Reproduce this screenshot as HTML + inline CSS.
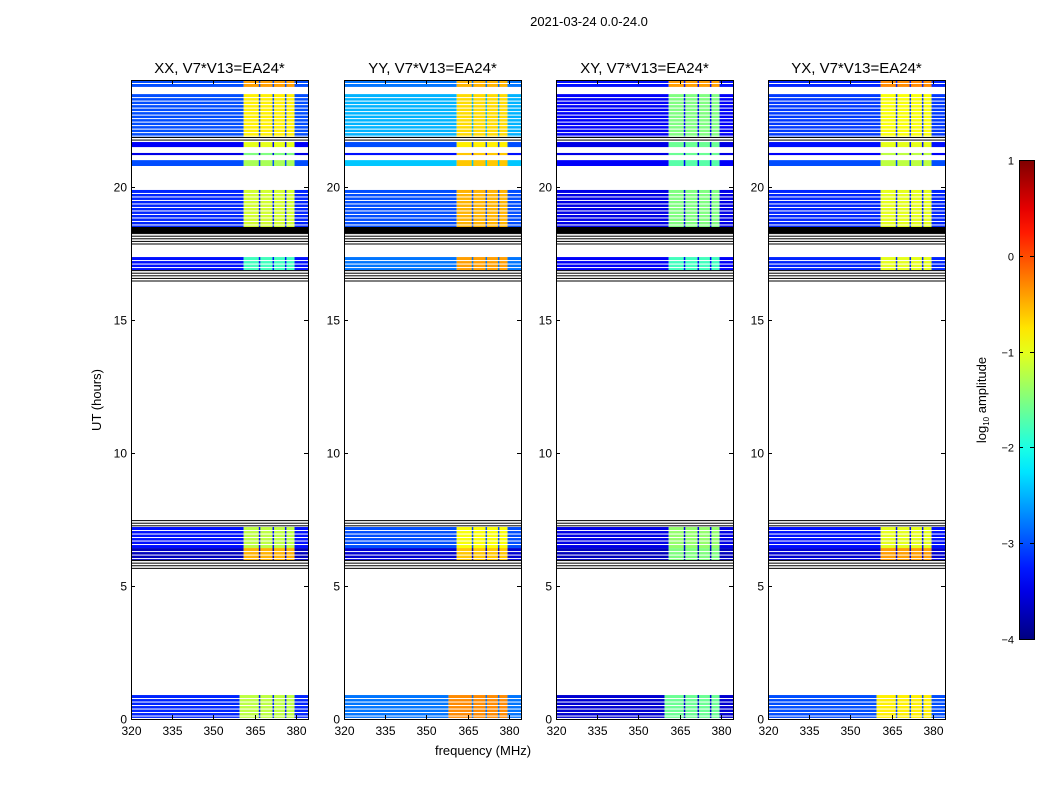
<!DOCTYPE html>
<html><head><meta charset="utf-8">
<style>
body{margin:0;background:#fff;}
svg{display:block;font-family:"Liberation Sans","DejaVu Sans",sans-serif;}
</style></head>
<body>
<svg id="fig" width="1050" height="800" xmlns="http://www.w3.org/2000/svg">
<rect width="1050" height="800" fill="#fff"/>
<text x="589" y="26" font-size="13" text-anchor="middle">2021-03-24 0.0-24.0</text>
<text transform="translate(101,400) rotate(-90)" font-size="13" text-anchor="middle">UT (hours)</text>
<text x="483" y="755" font-size="13" text-anchor="middle">frequency (MHz)</text>
<g id="panels"></g>
<g id="cbar"></g>
<text transform="translate(986,400) rotate(-90)" font-size="13" text-anchor="middle">log<tspan font-size="8" dy="3">10</tspan><tspan dy="-3"> amplitude</tspan></text>
</svg>
<script>
// ---- data ----
const panelTitles = ["XX, V7*V13=EA24*","YY, V7*V13=EA24*","XY, V7*V13=EA24*","YX, V7*V13=EA24*"];
const segStart = [23.74,21.86,21.67,21.48,21.18,20.77,18.48,18.25,17.80,16.86,16.38,7.21,6.42,5.97,5.60,0.04];
const segEnd   = [24.00,23.47,21.86,21.67,21.26,20.99,19.87,18.48,18.25,17.35,16.86,7.47,7.21,6.42,5.97,0.90];
const segKind  = ["d","d","l","d","d","d","d","k","l","d","l","l","d","d","l","d"];
const lowXX  = [-3.0,-3.0,null,-3.4,-3.5,-3.0,-3.2,null,null,-3.3,null,null,-3.3,-3.7,null,-3.2];
const highXX = [-0.4,-0.8,null,-1.0,-1.5,-1.3,-1.1,null,null,-1.8,null,null,-1.2,-0.5,null,-1.2];
const lowYY  = [-2.8,-2.5,null,-3.0,-3.3,-2.4,-3.0,null,null,-2.8,null,null,-3.0,-3.6,null,-2.8];
const highYY = [-0.5,-0.7,null,-0.8,-0.6,-0.6,-0.5,null,null,-0.4,null,null,-0.9,-0.6,null,-0.3];
const lowXY  = [-3.3,-3.4,null,-3.5,-3.5,-3.4,-3.5,null,null,-3.4,null,null,-3.5,-3.7,null,-3.6];
const highXY = [-0.4,-1.5,null,-1.6,-1.6,-1.7,-1.5,null,null,-1.8,null,null,-1.4,-1.5,null,-1.6];
const lowYX  = [-3.2,-3.1,null,-3.3,-3.4,-3.0,-3.2,null,null,-3.2,null,null,-3.3,-3.6,null,-3.0];
const highYX = [-0.3,-0.9,null,-1.0,-1.2,-1.2,-1.0,null,null,-1.0,null,null,-1.0,-0.4,null,-0.8];
const lowVals = [lowXX,lowYY,lowXY,lowYX];
const highVals = [highXX,highYY,highXY,highYX];
const xTicks = [320,335,350,365,380];
const yTicks = [0,5,10,15,20];
const cbTicks = [1,0,-1,-2,-3,-4];
const highBandStart = 361, highBandEnd = 379.5;
const channelGaps = [366.5,371.5,376];

// ---- layout ----
const NS = "http://www.w3.org/2000/svg";
const panelX = [131,344,556,768], PW = 177, PT = 80, PB = 719;
const fMin = 320, fMax = 384.4, hMin = 0, hMax = 24;
function xs(p,f){return panelX[p] + (f-fMin)/(fMax-fMin)*PW;}
function ys(h){return PB - (h-hMin)/(hMax-hMin)*(PB-PT);}
function jet(v){
  let t = (v+4)/5; t=Math.max(0,Math.min(1,t));
  const c = x=>Math.round(255*Math.max(0,Math.min(1,x)));
  const r = c(Math.min(4*t-1.5,-4*t+4.5));
  const g = c(Math.min(4*t-0.5,-4*t+3.5));
  const b = c(Math.min(4*t+0.5,-4*t+2.5));
  return `rgb(${r},${g},${b})`;
}
function mk(tag,attrs,parent){const e=document.createElementNS(NS,tag);for(const k in attrs)e.setAttribute(k,attrs[k]);parent.appendChild(e);return e;}

const panels = document.getElementById("panels");
for(let p=0;p<4;p++){
  const g = mk("g",{},panels);
  
  
  for(let i=0;i<segStart.length;i++){
    const y1=ys(segEnd[i]), y2=ys(segStart[i]);
    if(segKind[i]==="k"){
      const r=mk("rect",{x:xs(p,fMin),y:y1,width:PW,height:y2-y1,fill:"#000"},g);
      
      
    } else if(segKind[i]==="l"){
      for(let y=y1;y<y2;y+=2.6){
        const l=mk("rect",{x:xs(p,fMin),y:y,width:PW,height:1,fill:"#000"},g);
        
        
      }
    } else {
      const lo=lowVals[p][i], hi=highVals[p][i];
      const hs = i===segStart.length-1 ? (p===1?358:359.5) : highBandStart;
      const a=mk("rect",{x:xs(p,fMin),y:y1,width:xs(p,hs)-xs(p,fMin),height:y2-y1,fill:jet(lo)},g);
      
      
      const b=mk("rect",{x:xs(p,hs),y:y1,width:xs(p,highBandEnd)-xs(p,hs),height:y2-y1,fill:jet(hi)},g);
      
      
      const c=mk("rect",{x:xs(p,highBandEnd),y:y1,width:xs(p,fMax)-xs(p,highBandEnd),height:y2-y1,fill:jet(lo)},g);
      
      
      for(const f of channelGaps){
        const d=mk("rect",{x:xs(p,f),y:y1,width:1.5,height:y2-y1,fill:jet(lo)},g);
        
        
      }
      if(y2-y1>6){
        for(let y=y1+3;y<y2-1;y+=3.5){
          const w=mk("rect",{x:xs(p,fMin),y:y,width:PW,height:1,fill:"#fff"},g);
          
          
        }
      }
    }
  }
  const fr=mk("rect",{x:panelX[p]+0.5,y:PT+0.5,width:PW,height:PB-PT,fill:"none",stroke:"#000","stroke-width":1},g);
  
  
  const t=mk("text",{x:panelX[p]+PW/2,y:73,"font-size":15,"text-anchor":"middle"},g);
  t.textContent=panelTitles[p];
  
  
  for(const f of xTicks){
    const x=Math.round(xs(p,f))+0.5;
    mk("line",{x1:x,x2:x,y1:PB,y2:PB-4,stroke:"#000"},g);
    mk("line",{x1:x,x2:x,y1:PT,y2:PT+4,stroke:"#000"},g);
    const tl=mk("text",{x:x,y:PB+16,"font-size":12,"text-anchor":"middle"},g);
    tl.textContent=f;
    
    
  }
  for(const h of yTicks){
    const y=Math.round(ys(h))+0.5;
    mk("line",{x1:panelX[p],x2:panelX[p]+4,y1:y,y2:y,stroke:"#000"},g);
    mk("line",{x1:panelX[p]+PW,x2:panelX[p]+PW-4,y1:y,y2:y,stroke:"#000"},g);
    const tl=mk("text",{x:panelX[p]-4,y:y+4,"font-size":12,"text-anchor":"end"},g);
    tl.textContent=h;
    
    
  }
}
// colorbar
const cb=document.getElementById("cbar");
const cbX=1019,cbW=15,cbT=160,cbB=639;
const defs=mk("defs",{},cb);
const lg=mk("linearGradient",{id:"jetg",x1:0,y1:1,x2:0,y2:0},defs);
for(let k=0;k<=20;k++){mk("stop",{offset:k/20,"stop-color":jet(-4+5*k/20)},lg);}
const cr=mk("rect",{x:cbX+0.5,y:cbT+0.5,width:cbW,height:cbB-cbT,fill:"url(#jetg)",stroke:"#000"},cb);


for(const v of cbTicks){
  const y=Math.round(cbB-(v+4)/5*(cbB-cbT))+0.5;
  mk("line",{x1:cbX,x2:cbX+4,y1:y,y2:y,stroke:"#000"},cb);
  mk("line",{x1:cbX+cbW,x2:cbX+cbW-4,y1:y,y2:y,stroke:"#000"},cb);
  const tl=mk("text",{x:cbX-5,y:y+4,"font-size":11,"text-anchor":"end"},cb);
  tl.textContent=v<0?"\u2212"+(-v):String(v);
  
  
}
</script>
</body></html>
